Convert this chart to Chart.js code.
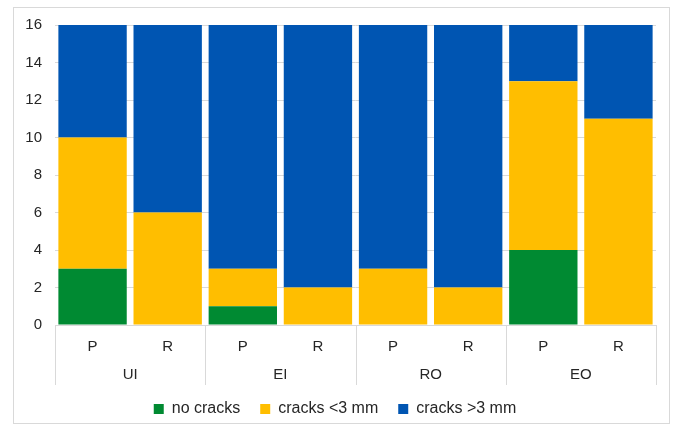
<!DOCTYPE html>
<html>
<head>
<meta charset="utf-8">
<script src="https://cdn.jsdelivr.net/npm/chart.js@4"></script>
<style>
  body { margin: 0; background: #fff; }
  #box { position: absolute; left: 13px; top: 7px; width: 655px; height: 415px; border: 1px solid #d9d9d9; }
  canvas { display: block; }
</style>
</head>
<body>
<div id="box"><canvas id="myChart" width="655" height="415"></canvas></div>
<script>
const categories = ["P", "R", "P", "R", "P", "R", "P", "R"];
const groups = ["UI", "EI", "RO", "EO"];
const noCracks = [3, 0, 1, 0, 0, 0, 4, 0];
const cracksSmall = [7, 6, 2, 2, 3, 2, 9, 11];
const cracksLarge = [6, 10, 13, 14, 13, 14, 3, 5];
const yTicks = [0, 2, 4, 6, 8, 10, 12, 14, 16];

const FONT = "'Liberation Sans', Arial, sans-serif";
const TEXT = "#262626";

// second row of the category axis: group names and separators
const groupAxis = {
  id: 'groupAxis',
  afterDraw(chart) {
    const x = chart.scales.x;
    const ctx = chart.ctx;
    const step = x.getPixelForValue(1) - x.getPixelForValue(0);
    const top = x.top;
    ctx.save();
    ctx.strokeStyle = "#d9d9d9";
    ctx.lineWidth = 1;
    for (let i = 0; i <= groups.length; i++) {
      const px = Math.round(x.getPixelForValue(i * 2) - step / 2) + 0.5;
      ctx.beginPath();
      ctx.moveTo(px, top);
      ctx.lineTo(px, top + 60);
      ctx.stroke();
    }
    ctx.fillStyle = TEXT;
    ctx.font = "15px " + FONT;
    ctx.textAlign = "center";
    ctx.textBaseline = "middle";
    groups.forEach((g, i) => {
      const cx = (x.getPixelForValue(i * 2) + x.getPixelForValue(i * 2 + 1)) / 2;
      ctx.fillText(g, cx, top + 50);
    });
    ctx.restore();
  }
};

const ctx = document.getElementById("myChart").getContext("2d");
const chart = new Chart(ctx, {
  type: 'bar',
  data: {
    labels: categories,
    datasets: [
      { label: 'no cracks', data: noCracks, backgroundColor: '#008A32' },
      { label: 'cracks <3 mm', data: cracksSmall, backgroundColor: '#FFBE00' },
      { label: 'cracks >3 mm', data: cracksLarge, backgroundColor: '#0055B2' }
    ]
  },
  options: {
    responsive: false,
    animation: false,
    layout: { padding: { top: 17, right: 13, bottom: -4, left: 0 } },
    datasets: { bar: { categoryPercentage: 1, barPercentage: 0.91 } },
    scales: {
      x: {
        stacked: true,
        grid: { display: false },
        border: { color: '#d9d9d9' },
        ticks: { color: TEXT, font: { family: FONT, size: 15 }, padding: 5 },
        afterFit(scale) { scale.height = 56; }
      },
      y: {
        stacked: true,
        min: 0,
        max: 16,
        afterBuildTicks(scale) { scale.ticks = yTicks.map(v => ({ value: v })); },
        grid: { color: '#d9d9d9', drawTicks: false },
        border: { display: false },
        ticks: { color: TEXT, font: { family: FONT, size: 15 }, padding: 13 },
        afterFit(scale) { scale.width = 41; scale.paddingTop = 0; scale.paddingBottom = 0; }
      }
    },
    plugins: {
      legend: {
        position: 'bottom',
        labels: { boxWidth: 10, boxHeight: 10, padding: 20, color: TEXT, font: { family: FONT, size: 16 } }
      },
      tooltip: { enabled: false }
    }
  },
  plugins: [groupAxis]
});
</script>
</body>
</html>
